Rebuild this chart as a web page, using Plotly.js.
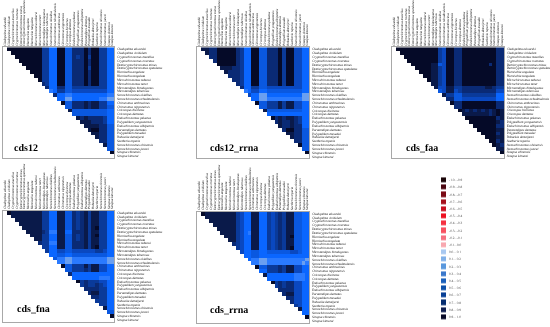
<!DOCTYPE html>
<html><head><meta charset="utf-8">
<script src="https://cdn.plot.ly/plotly-3.0.1.min.js"></script>
<style>html,body{margin:0;padding:0;background:#fff}#c{width:550px;height:327px;filter:blur(0.3px)}#c text{text-rendering:geometricPrecision}</style>
</head><body><div id="c"></div>
<script>
const species=["Cladopelma edwardsi","Cladopelma viridulum","Cryptochironomus macellus","Cryptochironomus rostratus","Demicryptochironomus minus","Demicryptochironomus spatulatus","Harnischia angulata","Harnischia tangulata","Microchironomus tabarui","Microchironomus tener","Microtendipes himalayanus","Microtendipes tuberosus","Stenochironomus okialbus","Stenochironomus tchudmulensis","Chironomus anthracinus","Chironomus nipponensis","Cricotopus bicinctus","Cricotopus dentatus","Endochironomus pekanus","Polypedilum yongsanensis","Endochironomus albipennis","Paratendipes dentatus","Polypedilum masudai","Robackia demeijerei","Saetheria reparia","Stenochironomus ohioensis","Stenochironomus juncei","Sinapsa chinensis","Sinapsa kimurai"];
const legendLabels=["-1.0...-0.9","-0.9...-0.8","-0.8...-0.7","-0.7...-0.6","-0.6...-0.5","-0.5...-0.4","-0.4...-0.3","-0.3...-0.2","-0.2...-0.1","-0.1...0.0","0.0... 0.1","0.1... 0.2","0.2... 0.3","0.3... 0.4","0.4... 0.5","0.5... 0.6","0.6... 0.7","0.7... 0.8","0.8... 0.9","0.9... 1.0"];
const legendColors=["#1a0508","#4a0510","#7a0a15","#a5101c","#c81020","#ee1020","#f53040","#f85060","#f57080","#f8a8b0","#a8c8f0","#80b0e8","#5a98dd","#3a78cc","#1a60bb","#0c50aa","#083f95","#052d70","#101f50","#080a28"];
// correlation bin per cell: 9 = 0.9..1.0, 0 = 0.0..0.1; rows hold the cells right of the diagonal
const heatColors=["#a8c8f0","#6a9ff0","#2a7aff","#0a66ff","#0a58e0","#0a48c0","#0a3a9a","#0a2a75","#0a1a4a","#050a28"];
const t1=[6,6,3,3,9,9,4,4,7,7,7,9,7,9,9,6,6,3,3];
const cds12=[
[9,9,9,9,9,9,9,9,9,...t1],[9,9,9,9,9,9,9,9,...t1],
[9,9,9,9,9,9,9,6,6,3,3,9,9,4,4,7,6,7,9,6,9,9,6,6,3,3],
[9,9,9,9,9,9,...t1],[9,9,9,9,9,...t1],
[9,9,9,9,6,6,3,3,9,9,4,4,7,7,7,9,6,9,9,6,6,3,3],
[9,9,9,...t1],[9,9,...t1],[9,...t1],[7,6,3,3,9,9,4,4,7,7,7,9,7,9,9,6,6,3,3],
[7,3,3,7,7,4,4,6,6,6,6,6,6,6,6,6,3,3],
[2,3,6,6,4,4,5,5,5,5,5,5,5,5,5,3,3],
[7,3,3,2,2,3,3,3,3,3,3,3,3,3,2,2],
[3,3,1,1,3,3,3,3,3,3,3,2,2,1,1],
[9,4,4,7,7,7,8,7,8,8,6,6,3,3],
[4,4,7,7,7,8,7,8,8,6,6,4,4],
[8,4,4,4,4,4,4,4,4,4,3,3],
[4,4,4,4,4,4,4,4,4,3,3],
[8,7,8,7,7,7,7,6,3,3],
[8,8,8,7,7,7,6,3,3],
[8,8,8,8,7,7,4,4],
[8,9,9,7,7,4,4],
[8,8,7,7,4,4],[8,7,7,4,4],[7,7,4,4],[8,4,4],[4,4],[9]];
const t2=[7,6,3,3,9,9,4,4,7,7,7,9,6,9,9,5,5,3,3];
const cds12Rrna=[
[8,8,7,7,9,9,9,9,9,...t2],[8,7,7,9,9,9,9,9,...t2],[7,7,9,9,9,9,9,...t2],[7,9,9,9,9,9,...t2],[9,9,9,9,9,...t2],
[8,8,8,7,...t2],[8,7,7,...t2],[7,7,...t2],[7,...t2],[...t2],
[7,3,3,6,6,4,4,5,5,5,5,5,5,5,5,5,3,3],
[2,3,5,5,3,3,4,4,4,4,4,4,4,4,4,3,3],
[5,3,3,1,1,3,3,3,3,3,3,3,3,3,1,1],
[3,3,1,1,2,2,2,2,2,2,2,2,2,1,1],
[9,4,4,6,6,6,8,6,8,8,5,5,3,3],
[4,4,6,6,6,8,6,8,8,5,5,3,3],
[8,4,4,4,4,4,4,4,4,4,3,3],
[3,3,3,3,3,3,3,3,3,3,3],
[9,7,8,7,8,8,7,6,3,3],
[7,8,7,7,8,7,6,3,3],
[8,7,7,8,7,7,3,3],
[7,9,9,7,7,4,4],
[8,8,7,7,4,4],[8,7,7,4,4],[7,7,4,4],[9,4,4],[4,4],[9]];
const t3=[9,9,6,5,9,9,7,7,9,9,9,9,9,9,9,9,9,7,7];
const t3b=[8,8,6,5,9,9,7,7,9,9,9,9,9,9,9,9,9,7,7];
const cdsFaa=[
[9,9,9,9,9,9,9,9,9,...t3],[9,9,9,9,9,9,9,9,...t3],[9,9,9,9,9,9,9,...t3],[9,9,9,9,9,9,...t3],
[9,9,9,9,9,8,8,4,5,9,9,7,7,9,9,9,9,9,9,9,7,9,7,7],
[9,9,9,9,...t3b],[9,9,9,...t3b],[9,9,...t3b],[9,...t3b],[...t3b],
[8,5,5,8,8,6,6,7,7,7,7,7,7,8,8,7,6,6],
[4,5,8,8,5,6,7,7,7,7,7,7,7,7,7,5,5],
[8,6,6,4,4,6,6,6,6,6,6,6,6,6,3,3],
[7,7,4,4,5,5,5,5,5,5,5,5,5,3,3],
[9,7,7,9,9,9,9,9,9,9,9,9,7,7],
[7,7,9,9,9,9,9,9,9,9,9,7,7],
[9,8,7,8,7,8,7,8,7,8,9,8],
[8,8,8,8,8,8,8,7,8,9,8],
[9,9,9,9,9,9,9,9,7,8],
[9,9,9,9,9,9,9,8,7],
[9,9,9,9,9,9,7,7],
[9,9,9,9,9,8,8],
[9,9,9,9,7,8],[9,9,9,8,8],[9,9,7,8],[9,8,7],[8,8],[9]];
const t4=[6,6,3,3,8,8,4,4,7,6,7,8,6,8,8,6,6,3,3];
const cdsFna=[
[9,8,8,8,8,8,8,8,8,...t4],[8,8,8,8,8,8,8,8,...t4],[8,8,8,8,8,8,8,...t4],[8,8,8,8,8,8,...t4],
[8,8,8,8,8,6,6,3,3,8,8,4,4,7,6,7,8,6,8,9,6,6,3,3],
[8,8,8,8,7,6,2,2,8,8,3,3,7,7,7,8,6,8,8,6,6,3,3],
[8,8,8,6,6,3,3,8,8,4,4,7,6,7,8,6,8,9,6,6,3,3],
[8,8,...t4],
[7,6,6,2,2,8,8,4,4,7,7,7,8,6,8,8,6,6,3,3],
[6,6,3,3,8,8,4,4,7,7,7,8,6,8,9,6,6,3,3],
[6,3,3,5,5,4,4,5,5,5,5,5,5,6,6,5,3,3],
[3,3,4,4,3,3,4,4,4,4,4,4,4,4,4,3,3],
[4,2,2,1,1,2,2,2,2,2,2,2,2,2,1,1],
[2,2,1,1,2,2,2,2,2,2,2,2,2,1,1],
[9,4,4,6,6,6,8,6,8,8,5,5,3,3],
[4,4,6,6,6,7,6,8,8,5,5,3,3],
[7,3,3,3,3,3,3,3,3,3,3,3],
[3,3,3,3,3,3,3,2,2,2,3],
[9,6,7,6,6,6,5,5,3,3],
[6,7,6,6,7,6,5,3,3],
[7,7,7,7,6,6,3,3],
[7,8,8,6,6,3,3],
[7,7,6,6,3,3],[6,6,6,3,3],[6,6,3,3],[8,3,3],[4,4],[9]];
const t5=[6,5,3,3,8,8,3,3,6,5,6,7,6,8,8,4,4,3,3];
const cdsRrna=[
[9,8,8,8,8,8,8,8,8,...t5],[8,8,8,8,8,8,8,8,...t5],[8,8,8,8,8,8,8,...t5],[8,8,8,8,8,8,...t5],[8,8,8,8,8,...t5],
[8,8,8,8,6,5,3,2,8,8,3,3,6,5,6,7,6,8,8,4,4,3,3],
[8,8,8,6,5,3,3,8,8,3,3,6,5,6,7,6,8,9,4,4,3,3],
[8,8,...t5],[7,...t5],
[6,5,3,3,8,8,3,3,6,5,6,7,6,8,9,4,4,3,3],
[5,3,3,4,4,3,3,4,4,4,4,4,4,5,5,4,3,3],
[3,3,4,4,3,3,3,3,3,3,3,3,3,3,3,3,3],
[3,2,2,1,1,2,2,2,2,2,2,2,2,2,2,1],
[2,2,1,1,2,2,2,2,2,2,2,2,2,1,2],
[9,4,4,6,6,6,7,6,8,8,5,5,3,3],
[3,3,6,6,6,7,6,8,8,5,5,3,3],
[8,3,3,3,3,3,3,3,2,2,2,3],
[3,3,3,3,3,3,3,2,2,2,3],
[9,6,7,6,7,7,5,5,3,3],
[6,7,6,7,7,5,5,3,3],
[7,7,7,7,5,5,3,3],
[7,8,8,5,5,3,3],
[7,7,5,5,3,3],[7,5,5,3,3],[6,5,3,3],[8,3,3],[3,3],[9]];

const panels=[
 {name:"cds12",rows:cds12,box:[3.3,47.3,114.3,158],label:[13,147]},
 {name:"cds12_rrna",rows:cds12Rrna,box:[197.3,47.3,309.3,158.3],label:[209,147]},
 {name:"cds_faa",rows:cdsFaa,box:[392,47.3,504,158],label:[405,147]},
 {name:"cds_fna",rows:cdsFna,box:[3.3,210.7,114.3,321.7],label:[16,308]},
 {name:"cds_rrna",rows:cdsRrna,box:[197.3,211.7,309.3,322.7],label:[209,309]}
];
const W=550,H=327,n=species.length;
const serif='"Liberation Serif", serif';
const heatScale=heatColors.map((c,i)=>[i/9,c]);
const legendScale=legendColors.map((c,i)=>[i/19,c]);
const data=[],annotations=[],layout={width:W,height:H,margin:{l:0,r:0,t:0,b:0},showlegend:false,paper_bgcolor:"#fff",plot_bgcolor:"#fff"};
panels.forEach((p,k)=>{
  const s=k?String(k+1):"";
  const z=species.map((_,r)=>{
    const row=p.rows[r]||[];
    return species.map((_,c)=>c>r?row[c-r-1]:null);
  });
  data.push({type:"heatmap",x:species,y:species,z,xaxis:"x"+s,yaxis:"y"+s,colorscale:heatScale,zmin:0,zmax:9,showscale:false,hoverongaps:false,xgap:0,ygap:0});
  const [x0,y0,x1,y1]=p.box;
  const base={showgrid:false,zeroline:false,showline:true,mirror:true,linecolor:"#a8a8a8",linewidth:1,ticks:"",tickmode:"array",tickvals:species,ticktext:species,tickfont:{family:serif,size:3.3,color:"#111",style:"italic"},automargin:false,fixedrange:true,ticklabeloverflow:"allow"};
  layout["xaxis"+s]=Object.assign({},base,{domain:[x0/W,x1/W],anchor:"y"+s,side:"top",tickangle:-90,type:"category"});
  layout["yaxis"+s]=Object.assign({},base,{domain:[1-y1/H,1-y0/H],anchor:"x"+s,side:"right",autorange:"reversed",type:"category",ticklabelstandoff:1});
  annotations.push({xref:"paper",yref:"paper",x:p.label[0]/W,y:1-p.label[1]/H,xanchor:"left",yanchor:"middle",showarrow:false,text:"<b>"+p.name+"</b>",font:{family:serif,size:10,color:"#000"},borderpad:0});
});
data.push({type:"heatmap",x:["key"],y:legendLabels,z:legendLabels.map((_,i)=>[i]),xaxis:"x6",yaxis:"y6",colorscale:legendScale,zmin:0,zmax:19,showscale:false,ygap:2.2});
layout.xaxis6={domain:[441/W,446/W],anchor:"y6",showgrid:false,zeroline:false,showline:false,showticklabels:false,ticks:"",fixedrange:true};
layout.yaxis6={domain:[1-320.4/H,1-176.4/H],anchor:"x6",side:"right",autorange:"reversed",showgrid:false,zeroline:false,showline:false,ticks:"",type:"category",tickmode:"array",tickvals:legendLabels,ticktext:legendLabels,tickfont:{family:serif,size:3.4,color:"#444"},ticklabelstandoff:2,ticklabeloverflow:"allow",fixedrange:true};
layout.annotations=annotations;
Plotly.newPlot("c",data,layout,{staticPlot:true,displayModeBar:false});
</script></body></html>
